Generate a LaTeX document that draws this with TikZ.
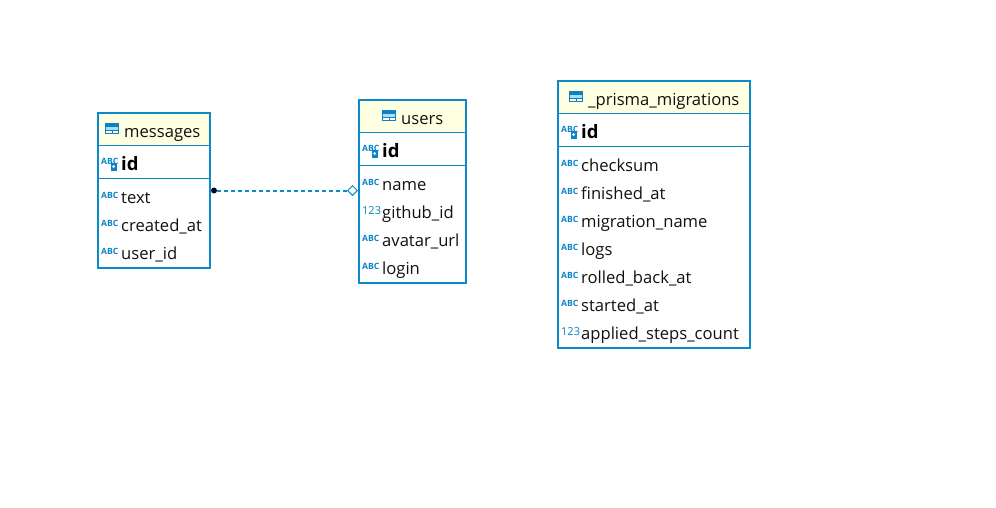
\documentclass[tikz,border=0pt]{standalone}
\usepackage{fontspec}
\usetikzlibrary{shapes.geometric}
\setmainfont{Open Sans}
\definecolor{edge}{HTML}{0A8BC9}
\definecolor{head}{HTML}{FFFFE1}
\definecolor{ink}{HTML}{111111}
\definecolor{icon}{HTML}{0A84C6}
\tikzset{x=1pt,y=-1pt,
 tablebox/.style={draw=edge,line width=2pt,fill=white,inner sep=0pt,outer sep=0pt,anchor=north west},
 rowtext/.style={anchor=base west,inner sep=0pt,text=ink,font=\fontsize{16.6}{18}\selectfont},
 idtext/.style={rowtext,font=\fontsize{18.5}{18}\selectfont\bfseries,text=black},
 abcicon/.style={anchor=base west,inner sep=0pt,text=icon,font=\fontsize{8.6}{8}\selectfont\bfseries},
 numicon/.style={anchor=base west,inner sep=0pt,text=icon,font=\fontsize{11}{10}\selectfont},
 divider/.style={draw=edge,line width=1pt}}
% #1 name, #2 x, #3 y, #4 w, #5 h, #6 title, #7 title x
\newcommand{\dbtable}[7]{%
 \node[tablebox,minimum width=#4pt,minimum height=#5pt] (#1) at (#2,#3) {};
 \fill[head] (#2+1,#3+1) rectangle (#2+#4-1,#3+32);
 \draw[divider] (#2,#3+32.5) -- (#2+#4,#3+32.5);
 \draw[divider] (#2,#3+65.5) -- (#2+#4,#3+65.5);
 \fill[icon] (#7-19,#3+10) rectangle (#7-5,#3+21);
 \fill[white] (#7-18,#3+14) rectangle (#7-12.5,#3+16.6);
 \fill[white] (#7-11.5,#3+14) rectangle (#7-6,#3+16.6);
 \fill[white] (#7-18,#3+17.5) rectangle (#7-12.5,#3+20);
 \fill[white] (#7-11.5,#3+17.5) rectangle (#7-6,#3+20);
 \fill[white!70!icon] (#7-18,#3+14) rectangle (#7-6,#3+16.6);
 \node[rowtext,font=\fontsize{16.6}{18}\selectfont] (#1title) at (#7,#3+24) {#6};
}
% #1 name #2 x of icon #3 baseline
\newcommand{\idrow}[3]{%
 \node[abcicon] (#1idicon) at (#2-1,#3-6) {ABC};
 \fill[icon] (#2+8.5,#3-7) rectangle (#2+15,#3+.5);
 \fill[white] (#2+11.7,#3-3.5) circle (1.5);
 \node[idtext] (#1id) at (#2+19,#3) {id};
}
\newcommand{\abcrow}[4]{%
 \node[abcicon] (#1i) at (#2-1,#3-5) {ABC};
 \node[rowtext] (#1) at (#2+19,#3) {#4};
}
\newcommand{\numrow}[4]{%
 \node[numicon] (#1i) at (#2-1,#3-4) {123};
 \node[rowtext] (#1) at (#2+19,#3) {#4};
}
\begin{document}
\begin{tikzpicture}
\useasboundingbox (0,0) rectangle (996,507);
\fill[white] (0,0) rectangle (996,507);
\dbtable{messages}{98}{113}{112}{155}{messages}{124}
\idrow{m}{102}{170}
\abcrow{mtext}{102}{203}{text}{}
\abcrow{mcreated}{102}{231}{created\_at}{}
\abcrow{muser}{102}{259}{user\_id}{}
\dbtable{users}{359}{100}{107}{183}{users}{401}
\idrow{u}{363}{157}
\abcrow{uname}{363}{190}{name}{}
\numrow{ugit}{363}{218}{github\_id}{}
\abcrow{uavatar}{363}{246}{avatar\_url}{}
\abcrow{ulogin}{363}{274}{login}{}
\dbtable{prisma}{558}{81}{192}{267}{\_prisma\_migrations}{588}
\idrow{p}{562}{138}
\abcrow{pcheck}{562}{171}{checksum}{}
\abcrow{pfinish}{562}{199}{finished\_at}{}
\abcrow{pname}{562}{227}{migration\_name}{}
\abcrow{plogs}{562}{255}{logs}{}
\abcrow{prolled}{562}{283}{rolled\_back\_at}{}
\abcrow{pstart}{562}{311}{started\_at}{}
\numrow{pcount}{562}{339}{applied\_steps\_count}{}
\node[circle,fill=black!85!blue,inner sep=0pt,minimum size=6pt] (src) at (214,190.5) {};
\node[diamond,aspect=1,draw=edge,fill=white,line width=1pt,inner sep=0pt,minimum size=10pt] (dst) at (352.5,190.5) {};
\draw[draw=edge,line width=2pt,dash pattern=on 4pt off 3pt] (src) -- (dst);
\end{tikzpicture}
\end{document}
